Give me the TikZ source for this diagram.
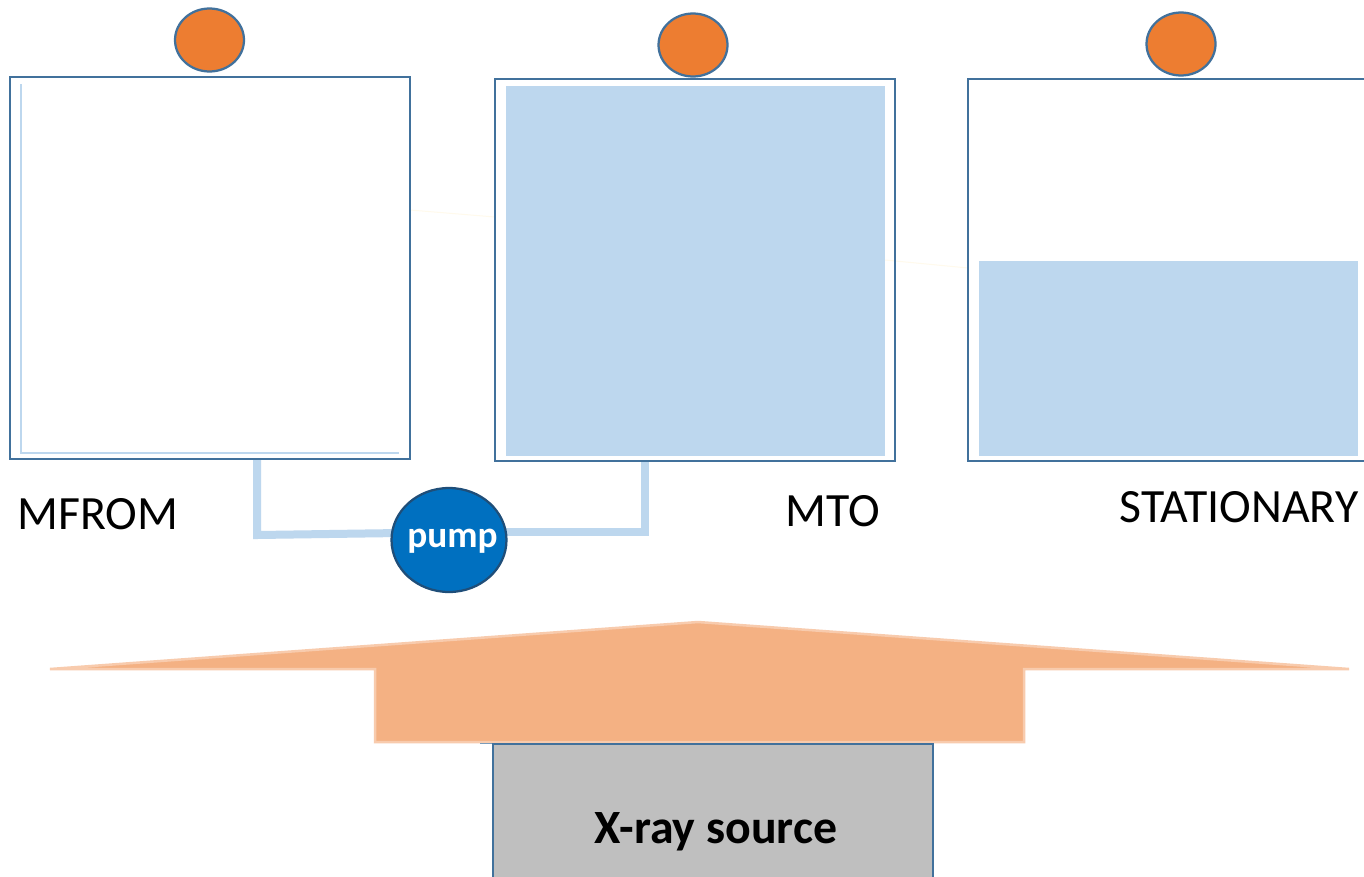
\documentclass[tikz,border=0pt]{standalone}
\usepackage{fontspec}
\setmainfont{Carlito}
\usetikzlibrary{shapes.geometric}
\definecolor{tankline}{HTML}{41719C}
\definecolor{water}{HTML}{BDD7EE}
\definecolor{ball}{HTML}{ED7D31}
\definecolor{beam}{HTML}{F4B183}
\definecolor{beamline}{HTML}{F8CBAD}
\definecolor{pumpblue}{HTML}{0070C0}
\definecolor{pumpline}{HTML}{1F4E79}
\definecolor{faint}{HTML}{FFFAEC}
\definecolor{sourcegray}{HTML}{BFBFBF}
\tikzset{
  tank/.style={draw=tankline,line width=.5mm},
  floater/.style={ellipse,draw=tankline,line width=.45mm,fill=ball,minimum width=1.38cm,minimum height=1.26cm,inner sep=0pt},
  pipe/.style={water,line width=.16cm},
  caption/.style={font=\fontsize{27.2}{30}\selectfont,inner sep=0pt}
}
\begin{document}
\begin{tikzpicture}[x=.02cm,y=-.02cm]
\clip (0,0) rectangle (1364,876);
\fill[white] (0,0) rectangle (1364,876);
% corners of the tanks
\coordinate(FROMa) at (10,77);
\coordinate(FROMb) at (410,459);
\coordinate(TOa) at (495,79);
\coordinate(TOb) at (895,461);
\coordinate(STATa) at (968,79);
\coordinate(STATb) at (1372,461);
\coordinate(FROMfoot) at (257,460);
\coordinate(TOfoot) at (645,462);
\coordinate(FROMbend) at (257,535);
\coordinate(TObend) at (645,532);
\coordinate(pumpL) at (400,533);
\coordinate(pumpR) at (500,532);
% faint lines between the tanks
\draw[faint,line width=.2mm] (410,210)--(495,217);
\draw[faint,line width=.2mm] (885,260)--(968,268);
% water
\draw[water,line width=.4mm] (21,84)--(21,453)--(399,453);
\fill[water] (506,86) rectangle (885,456);
\fill[water] (979,261) rectangle (1358,456);
\draw[tank] (FROMa) rectangle (FROMb);
\draw[tank] (TOa) rectangle (TOb);
\draw[tank] (STATa) rectangle (STATb);
\node[floater] (ballFROM) at (209.5,40) {};
\node[floater] (ballTO) at (693,45) {};
\node[floater] (ballSTAT) at (1181,44) {};
% pipes and pump
\draw[pipe] (FROMfoot)--(FROMbend)--(pumpL);
\draw[pipe] (TOfoot)--(TObend)--(pumpR);
\node[ellipse,draw=pumpline,line width=.45mm,fill=pumpblue,minimum width=2.3cm,minimum height=2.08cm,inner sep=0pt] (pump) at (449,540) {};
\node[text=white,font=\fontsize{21.2}{24}\selectfont\bfseries,inner sep=0pt,anchor=base] (pumpname) at (452.5,547) {pump};
% labels
\node[caption,anchor=base west] (labFROM) at (17,529) {MFROM};
\node[caption,anchor=base west] (labTO) at (785,526) {MTO};
\node[caption,anchor=base west] (labSTAT) at (1119,522) {STATIONARY};
% beam
\draw[beamline,fill=beam,line width=.5mm] (50,669)--(698,622)--(1349,669)--(1024,669)--(1024,742)--(375,742)--(375,669)--cycle;
% source
\draw[tankline!70,line width=.2mm] (480,743)--(493,743);
\draw[tankline,fill=sourcegray,line width=.45mm] (493,744) rectangle (933,890);
\node[font=\fontsize{27.2}{30}\selectfont\bfseries,inner sep=0pt,anchor=base] (source) at (716,843) {X-ray source};
\end{tikzpicture}
\end{document}
